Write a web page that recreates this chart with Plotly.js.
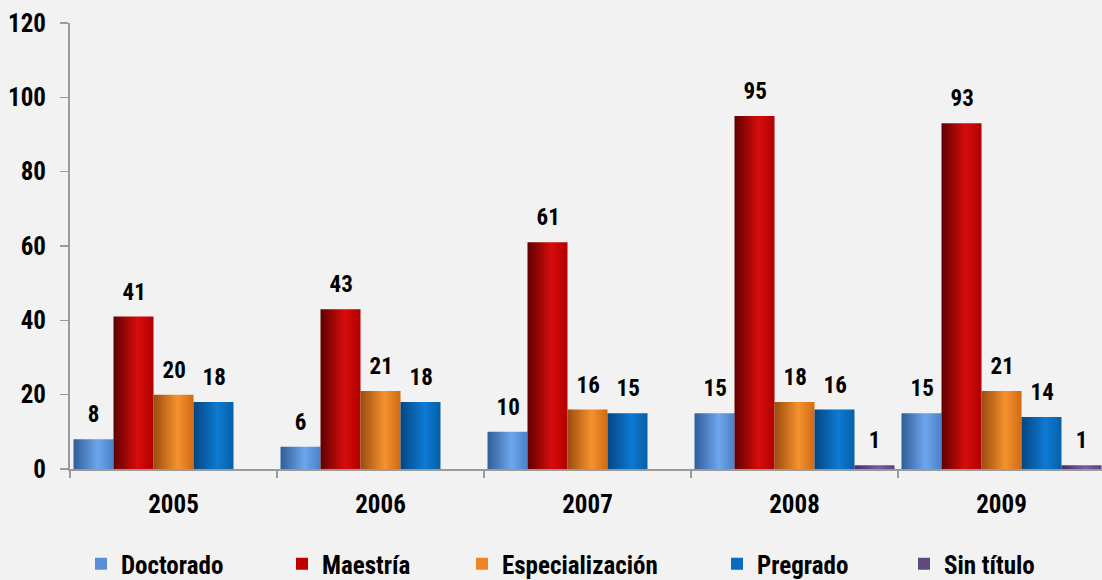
<!DOCTYPE html>
<html>
<head>
<meta charset="utf-8">
<script src="https://cdn.plot.ly/plotly-3.0.1.min.js"></script>
<style>
  html, body { margin: 0; padding: 0; background: #f2f2f2; overflow: hidden; }
  #chart { width: 1105px; height: 580px; }
  #chart text { font-stretch: 75% !important; }
</style>
</head>
<body>
<div id="chart"></div>
<script>
const years = ['2005', '2006', '2007', '2008', '2009'];
const seriesNames = ['Doctorado', 'Maestría', 'Especialización', 'Pregrado', 'Sin título'];
const doctorado = [8, 6, 10, 15, 15];
const maestria = [41, 43, 61, 95, 93];
const especializacion = [20, 21, 16, 18, 21];
const pregrado = [18, 18, 15, 16, 14];
const sinTitulo = [0, 0, 0, 1, 1];
const yTicks = [0, 20, 40, 60, 80, 100, 120];

const seriesValues = [doctorado, maestria, especializacion, pregrado, sinTitulo];
const colors = ['#5a8fd8', '#c00000', '#ee8424', '#0a6cc0', '#604a7b'];
// horizontal gradient stops for each series (dark edge, light centre, mid edge)
const gradStops = [
  ['#2f5d99', '#6ea6ec', '#4a80c8'],
  ['#5e0000', '#d80c0c', '#b00000'],
  ['#9a4c0e', '#f6922e', '#d06a14'],
  ['#034682', '#0e7ad2', '#0560a8'],
  ['#44306a', '#7a5aa8', '#5a4280']
];
const FONT = 'Roboto, "Liberation Sans", sans-serif';
const mkFont = (size) => ({ family: FONT, size: size, color: '#000', weight: 'bold' });

// legend text-start positions in pixels (from reference)
const legendTextX = [121, 322, 502, 757, 944];
const plotLeft = 70, plotWidth = 1035, plotBottom = 469, plotHeight = 446;

const traces = seriesNames.map((name, i) => ({
  type: 'bar',
  name: name,
  x: years,
  y: seriesValues[i],
  marker: { color: colors[i], line: { width: 0 } },
  legend: i === 0 ? 'legend' : 'legend' + (i + 1),
  hoverinfo: 'x+y+name'
}));

const offsets = [-80, -40, 0, 40, 80];
const annotations = [];
seriesValues.forEach((vals, i) => {
  vals.forEach((v, j) => {
    if (v > 0) {
      annotations.push({
        x: j, y: v, xref: 'x', yref: 'y',
        text: String(v), showarrow: false,
        xshift: offsets[i], yanchor: 'bottom', yshift: 9,
        font: mkFont(23)
      });
    }
  });
});

const layout = {
  width: 1105,
  height: 580,
  paper_bgcolor: '#f2f2f2',
  plot_bgcolor: '#f2f2f2',
  margin: { l: 70, r: 0, t: 23, b: 111, autoexpand: false },
  barmode: 'group',
  bargap: 0.034,
  bargroupgap: 0,
  font: { family: FONT, color: '#000' },
  xaxis: {
    type: 'category',
    range: [-0.5, 4.5], autorange: false,
    showline: true, linecolor: '#9a9a9a', linewidth: 2,
    ticks: 'outside', tickson: 'boundaries', ticklen: 7, tickcolor: '#9a9a9a', tickwidth: 1.5,
    tickfont: mkFont(25),
    tickangle: 0,
    ticklabelstandoff: 12,
    showgrid: false, zeroline: false, fixedrange: true, automargin: false
  },
  yaxis: {
    range: [0, 120], autorange: false,
    tickvals: yTicks,
    ticktext: yTicks.map(String),
    showline: true, linecolor: '#9a9a9a', linewidth: 2,
    ticks: 'outside', ticklen: 8, tickcolor: '#9a9a9a', tickwidth: 1.5,
    tickfont: mkFont(25),
    ticklabelstandoff: 9,
    showgrid: false, zeroline: false, fixedrange: true, automargin: false
  },
  annotations: annotations,
  showlegend: true
};

seriesNames.forEach((name, i) => {
  const key = i === 0 ? 'legend' : 'legend' + (i + 1);
  layout[key] = {
    orientation: 'h',
    x: (legendTextX[i] - 40 - plotLeft) / plotWidth,
    xanchor: 'left',
    y: (plotBottom - 564) / plotHeight,
    yanchor: 'middle',
    bgcolor: 'rgba(0,0,0,0)',
    font: mkFont(25),
    itemclick: false, itemdoubleclick: false
  };
});

Plotly.newPlot('chart', traces, layout, { displayModeBar: false, staticPlot: true }).then((gd) => {
  // add horizontal gradients to the bars drawn by Plotly
  const svg = gd.querySelector('.main-svg');
  const NS = 'http://www.w3.org/2000/svg';
  let defs = svg.querySelector('defs');
  if (!defs) { defs = document.createElementNS(NS, 'defs'); svg.insertBefore(defs, svg.firstChild); }
  gradStops.forEach((stops, i) => {
    const g = document.createElementNS(NS, 'linearGradient');
    g.setAttribute('id', 'bargrad' + i);
    g.setAttribute('x1', '0'); g.setAttribute('y1', '0');
    g.setAttribute('x2', '1'); g.setAttribute('y2', '0');
    [[0, stops[0]], [0.6, stops[1]], [1, stops[2]]].forEach(([o, c]) => {
      const s = document.createElementNS(NS, 'stop');
      s.setAttribute('offset', o);
      s.setAttribute('stop-color', c);
      g.appendChild(s);
    });
    defs.appendChild(g);
  });
  gd.querySelectorAll('.barlayer .trace').forEach((tr, i) => {
    tr.querySelectorAll('path').forEach((p) => { p.style.fill = 'url(#bargrad' + i + ')'; });
  });
});
</script>
</body>
</html>
